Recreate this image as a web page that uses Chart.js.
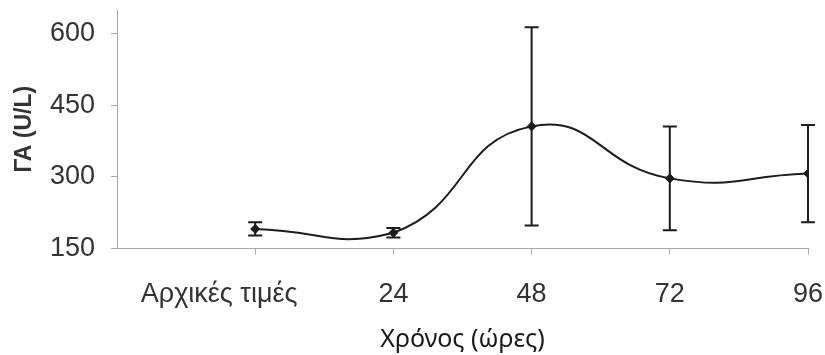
<!DOCTYPE html>
<html>
<head>
<meta charset="utf-8">
<script src="https://cdn.jsdelivr.net/npm/chart.js@4/dist/chart.umd.min.js"></script>
<style>
  html, body { margin: 0; padding: 0; background: #fff; }
  #c { display: block; }
</style>
</head>
<body>
<canvas id="c" width="825" height="355"></canvas>
<script>
// Time points (x axis) and measured ΓΑ values with their spread
const categories = ['Αρχικές τιμές', '24', '48', '72', '96'];
const means = [191, 183, 406, 297, 307];
const errors = [14, 10, 208, 109, 102];
const yTicks = [150, 300, 450, 600];

const ink = '#1c1c1c';
const axisGrey = '#a8a8a8';
const labelFont = { family: "'Liberation Sans', Arial, sans-serif", size: 27 };

// Vertical whiskers with caps, drawn in data space through the chart scales
const errorBars = {
  id: 'errorBars',
  beforeDatasetsDraw(chart) {
    const { ctx, scales: { x, y } } = chart;
    ctx.save();
    ctx.strokeStyle = ink;
    ctx.lineWidth = 2;
    means.forEach((m, i) => {
      const px = x.getPixelForValue(i + 1);
      const top = y.getPixelForValue(m + errors[i]);
      const bot = y.getPixelForValue(m - errors[i]);
      ctx.beginPath();
      ctx.moveTo(px, top); ctx.lineTo(px, bot);
      ctx.moveTo(px - 7, top); ctx.lineTo(px + 7, top);
      ctx.moveTo(px - 7, bot); ctx.lineTo(px + 7, bot);
      ctx.stroke();
    });
    ctx.restore();
  }
};

// The long baseline label sits a little left of its tick so it clears the axis area
const firstLabelShift = {
  id: 'firstLabelShift',
  beforeDraw(chart) {
    const items = chart.scales.x.getLabelItems();
    if (items.length && !items[0]._shifted) {
      items[0].options.translation[0] -= 36;
      items[0]._shifted = true;
    }
  }
};

// Keep the plot box fixed: no extra room reserved for overhanging tick labels
const noLabelPadding = s => {
  s.paddingLeft = 0; s.paddingRight = 0; s.paddingTop = 0; s.paddingBottom = 0;
};

new Chart(document.getElementById('c'), {
  type: 'line',
  data: {
    datasets: [{
      data: means.map((v, i) => ({ x: i + 1, y: v })),
      borderColor: ink,
      borderWidth: 2,
      tension: 0.5,
      pointStyle: 'rectRot',
      pointRadius: 4.5,
      pointBackgroundColor: ink,
      pointBorderColor: ink,
      pointBorderWidth: 1
    }]
  },
  options: {
    responsive: false,
    animation: false,
    layout: { padding: { top: 10, right: 17, bottom: 0, left: 0 } },
    plugins: {
      legend: { display: false },
      tooltip: { enabled: false }
    },
    scales: {
      x: {
        type: 'linear',
        min: 0,
        max: 5,
        afterBuildTicks: s => { s.ticks = categories.map((_, i) => ({ value: i + 1 })); },
        afterFit: s => { s.height = 106.5; noLabelPadding(s); },
        ticks: {
          callback: v => categories[v - 1],
          font: labelFont,
          color: '#333',
          padding: 24,
          maxRotation: 0,
          autoSkip: false
        },
        grid: { drawOnChartArea: false, color: axisGrey, tickLength: 6 },
        border: { color: axisGrey, width: 1 },
        title: {
          display: true,
          text: 'Χρόνος (ώρες)',
          color: '#1a1a1a',
          font: { family: "'Noto Sans', 'Open Sans', sans-serif", size: 25, weight: 'normal' },
          padding: { top: 0, bottom: 0 }
        }
      },
      y: {
        type: 'linear',
        min: 150,
        max: 650,
        afterBuildTicks: s => { s.ticks = yTicks.map(v => ({ value: v })); },
        afterFit: s => { s.width = 117; noLabelPadding(s); },
        ticks: {
          font: labelFont,
          color: '#333',
          padding: 16
        },
        grid: { drawOnChartArea: false, color: axisGrey, tickLength: 6 },
        border: { color: axisGrey, width: 1 },
        title: {
          display: true,
          text: 'ΓΑ (U/L)',
          color: '#333',
          font: { family: "'Liberation Sans', Arial, sans-serif", size: 23, weight: 'bold' },
          padding: { top: 11, bottom: 0 }
        }
      }
    }
  },
  plugins: [errorBars, firstLabelShift]
});
</script>
</body>
</html>
